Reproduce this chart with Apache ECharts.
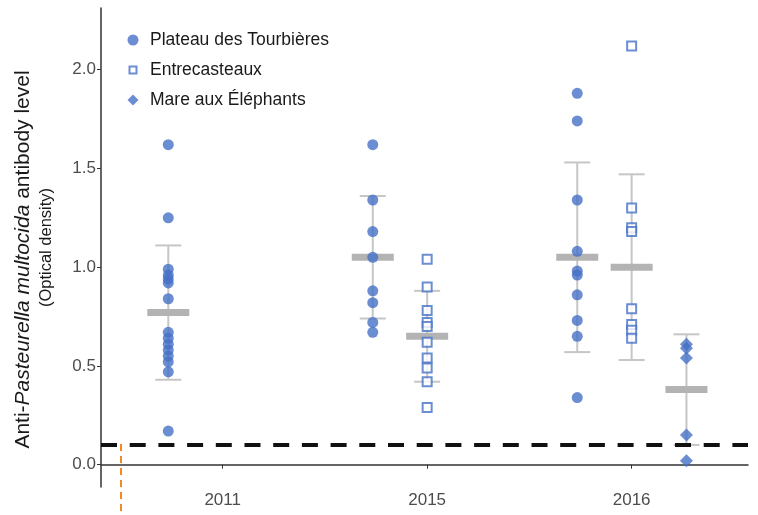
<!DOCTYPE html>
<html>
<head>
<meta charset="utf-8">
<script src="https://cdn.jsdelivr.net/npm/echarts@6/dist/echarts.min.js"></script>
<style>
  html, body { margin: 0; padding: 0; background: #fff; }
  #chart { width: 758px; height: 515px; }
</style>
</head>
<body>
<div id="chart"></div>
<script>
// categories and groups
var years = ['2011', '2015', '2016'];
var sites = ['Plateau des Tourbières', 'Entrecasteaux', 'Mare aux Éléphants'];
var siteOffset = [-0.266, 0, 0.268];

// individual antibody levels (optical density)
var plateau2011 = [1.62, 1.25, 0.99, 0.96, 0.94, 0.92, 0.84, 0.67, 0.64, 0.61, 0.58, 0.55, 0.52, 0.47, 0.17];
var plateau2015 = [1.62, 1.34, 1.18, 1.05, 0.88, 0.82, 0.72, 0.67];
var plateau2016 = [1.88, 1.74, 1.34, 1.08, 0.98, 0.96, 0.86, 0.73, 0.65, 0.34];
var entre2015 = [1.04, 0.90, 0.78, 0.72, 0.70, 0.62, 0.54, 0.49, 0.42, 0.29];
var entre2016 = [2.12, 1.30, 1.20, 1.18, 0.79, 0.71, 0.68, 0.64];
var mare2016 = [0.61, 0.59, 0.54, 0.15, 0.02];

// mean and error bar limits per group: [yearIndex, siteIndex, mean, low, high]
var summary = [
  [0, 0, 0.77, 0.43, 1.11],
  [1, 0, 1.05, 0.74, 1.36],
  [1, 1, 0.65, 0.42, 0.88],
  [2, 0, 1.05, 0.57, 1.53],
  [2, 1, 1.00, 0.53, 1.47],
  [2, 2, 0.38, 0.10, 0.66]
];

var threshold = 0.095;
var yTicks = [0, 0.5, 1, 1.5, 2];

function pts(yearIdx, siteIdx, vals) {
  return vals.map(function (v) { return [yearIdx + 1 + siteOffset[siteIdx], v]; });
}

var blue = '#4671c6';
var chart = echarts.init(document.getElementById('chart'));

var option = {
  animation: false,
  textStyle: { fontFamily: 'Liberation Sans, Arial, sans-serif' },
  grid: { left: 101, right: 10, top: 8, bottom: 28, outerBoundsMode: 'none' },
  legend: {
    orient: 'vertical',
    left: 121.5,
    top: 26,
    itemGap: 12,
    itemWidth: 24,
    itemHeight: 11,
    textStyle: { fontSize: 17.5, color: '#1a1a1a' },
    data: [
      { name: sites[0], icon: 'circle' },
      {
        name: sites[1],
        icon: 'path://M0,0M11,11M2,2L9,2L9,9L2,9Z',
        itemStyle: { color: '#fff', borderColor: blue, borderWidth: 2 }
      },
      { name: sites[2], icon: 'path://M5.5,0L11,5.5L5.5,11L0,5.5Z' }
    ]
  },
  xAxis: {
    type: 'value',
    min: 0.405,
    max: 3.569,
    splitLine: { show: false },
    axisLine: { lineStyle: { color: '#333', width: 1.5 } },
    axisTick: { customValues: [1, 2, 3], length: 4, lineStyle: { color: '#333' } },
    axisLabel: {
      customValues: [1, 2, 3],
      formatter: function (v) { return years[Math.round(v) - 1]; },
      fontSize: 17, color: '#4d4d4d', margin: 5
    }
  },
  yAxis: {
    type: 'value',
    min: -0.113,
    max: 2.312,
    splitLine: { show: false },
    axisLine: { show: true, lineStyle: { color: '#333', width: 1.5 } },
    axisTick: { show: true, customValues: yTicks, length: 4, lineStyle: { color: '#333' } },
    axisLabel: {
      customValues: yTicks,
      formatter: function (v) { return v.toFixed(1); },
      fontSize: 17, color: '#4d4d4d', margin: 5
    },
    name: '{a|Anti-}{i|Pasteurella multocida}{e| antibody level}\n{b|(Optical density)}',
    nameLocation: 'middle',
    nameRotate: 90,
    nameGap: 43,
    nameTextStyle: {
      color: '#1a1a1a',
      rich: {
        a: { fontSize: 21, color: '#1a1a1a', lineHeight: 23.5 },
        i: { fontSize: 21, fontStyle: 'italic', color: '#1a1a1a', lineHeight: 23.5 },
        e: { fontSize: 21, color: '#1a1a1a', lineHeight: 23.5, padding: [0, 24, 0, 0] },
        b: { fontSize: 16.5, color: '#1a1a1a', lineHeight: 23.5 }
      }
    }
  },
  series: [
    {
      type: 'custom',
      name: 'bars',
      z: 1,
      data: summary.map(function (s) { return [s[0] + 1 + siteOffset[s[1]], s[2], s[3], s[4]]; }),
      renderItem: function (params, api) {
        var x = api.value(0);
        var m = api.coord([x, api.value(1)]);
        var lo = api.coord([x, api.value(2)]);
        var hi = api.coord([x, api.value(3)]);
        var lineStyle = { stroke: '#c6c6c6', lineWidth: 2 };
        return {
          type: 'group',
          children: [
            { type: 'line', shape: { x1: lo[0], y1: lo[1], x2: hi[0], y2: hi[1] }, style: lineStyle },
            { type: 'line', shape: { x1: lo[0] - 13, y1: lo[1], x2: lo[0] + 13, y2: lo[1] }, style: lineStyle },
            { type: 'line', shape: { x1: hi[0] - 13, y1: hi[1], x2: hi[0] + 13, y2: hi[1] }, style: lineStyle },
            { type: 'rect', shape: { x: m[0] - 21, y: m[1] - 3.5, width: 42, height: 7 }, style: { fill: '#b3b3b3' } }
          ]
        };
      },
      markLine: {
        silent: true,
        symbol: 'none',
        label: { show: false },
        lineStyle: { color: '#111', width: 4, type: [16, 12.7] },
        data: [{ yAxis: threshold }]
      }
    },
    {
      type: 'scatter',
      name: sites[0],
      z: 3,
      symbol: 'circle',
      symbolSize: 11,
      itemStyle: { color: blue },
      data: pts(0, 0, plateau2011).concat(pts(1, 0, plateau2015), pts(2, 0, plateau2016))
    },
    {
      type: 'scatter',
      name: sites[1],
      z: 3,
      symbol: 'rect',
      symbolSize: 9,
      itemStyle: { color: '#fff', borderColor: blue, borderWidth: 2 },
      data: pts(1, 1, entre2015).concat(pts(2, 1, entre2016))
    },
    {
      type: 'scatter',
      name: sites[2],
      z: 3,
      symbol: 'diamond',
      symbolSize: 13,
      itemStyle: { color: blue },
      data: pts(2, 2, mare2016)
    }
  ],
  graphic: [
    {
      type: 'line',
      silent: true,
      shape: { x1: 121, y1: 444, x2: 121, y2: 515 },
      style: { stroke: '#f08a24', lineWidth: 2, lineDash: [7, 5] }
    }
  ]
};

chart.setOption(option);
</script>
</body>
</html>
